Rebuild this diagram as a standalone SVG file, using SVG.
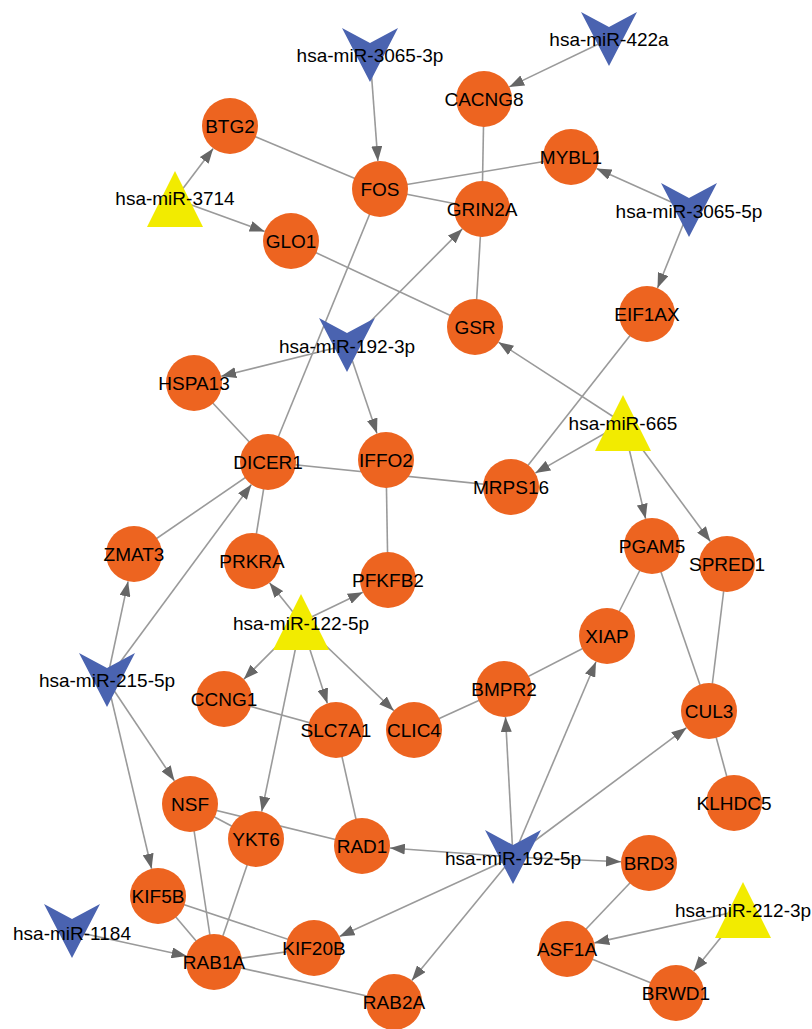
<svg xmlns="http://www.w3.org/2000/svg" width="812" height="1029" viewBox="0 0 812 1029">
<style>
.e{stroke:#9a9a9a;stroke-width:1.6;fill:none}
.a{stroke:#9a9a9a;stroke-width:1.6;fill:none;marker-end:url(#arr)}
.g{fill:#ED6420}
.v{fill:#4A63B0}
.t{fill:#F2EB00}
text{font-family:"Liberation Sans",Arial,sans-serif;font-size:19px;fill:#000;text-anchor:middle}
</style>
<defs>
<marker id="arr" markerUnits="userSpaceOnUse" markerWidth="15" markerHeight="11" refX="15" refY="5.5" orient="auto">
<path d="M0,0 L15,5.5 L0,11 Z" fill="#666"/>
</marker>
</defs>
<rect width="812" height="1029" fill="#fff"/>
<g id="edges">
<line class="e" x1="230" y1="126" x2="380" y2="189"/>
<line class="e" x1="380" y1="189" x2="571" y2="157"/>
<line class="e" x1="380" y1="189" x2="482" y2="209"/>
<line class="e" x1="484" y1="99" x2="482" y2="209"/>
<line class="e" x1="482" y1="209" x2="475" y2="327"/>
<line class="e" x1="291" y1="241" x2="475" y2="327"/>
<line class="e" x1="380" y1="189" x2="268" y2="462"/>
<line class="e" x1="194" y1="383" x2="268" y2="462"/>
<line class="e" x1="268" y1="462" x2="511" y2="487"/>
<line class="e" x1="647" y1="314" x2="511" y2="487"/>
<line class="e" x1="268" y1="462" x2="134" y2="554"/>
<line class="e" x1="268" y1="462" x2="252" y2="561"/>
<line class="e" x1="386" y1="460" x2="388" y2="580"/>
<line class="e" x1="652" y1="546" x2="607" y2="636"/>
<line class="e" x1="652" y1="546" x2="709" y2="711"/>
<line class="e" x1="727" y1="564" x2="709" y2="711"/>
<line class="e" x1="607" y1="636" x2="504" y2="689"/>
<line class="e" x1="504" y1="689" x2="414" y2="730"/>
<line class="e" x1="709" y1="711" x2="734" y2="803"/>
<line class="e" x1="224" y1="699" x2="336" y2="730"/>
<line class="e" x1="336" y1="730" x2="362" y2="846"/>
<line class="e" x1="190" y1="804" x2="362" y2="846"/>
<line class="e" x1="190" y1="804" x2="256" y2="839"/>
<line class="e" x1="190" y1="804" x2="214" y2="962"/>
<line class="e" x1="256" y1="839" x2="214" y2="962"/>
<line class="e" x1="158" y1="896" x2="214" y2="962"/>
<line class="e" x1="158" y1="896" x2="314" y2="948"/>
<line class="e" x1="214" y1="962" x2="314" y2="948"/>
<line class="e" x1="214" y1="962" x2="394" y2="1002"/>
<line class="e" x1="649" y1="863" x2="567" y2="949"/>
<line class="e" x1="567" y1="949" x2="676" y2="993"/>
<line class="a" x1="370" y1="55" x2="377.9" y2="161.1"/>
<line class="a" x1="609" y1="39" x2="509.2" y2="86.9"/>
<line class="a" x1="175" y1="199" x2="213.2" y2="148.4"/>
<line class="a" x1="175" y1="199" x2="264.7" y2="231.5"/>
<line class="a" x1="689" y1="210" x2="596.5" y2="168.5"/>
<line class="a" x1="689" y1="210" x2="657.5" y2="288"/>
<line class="a" x1="347" y1="345" x2="462.3" y2="228.9"/>
<line class="a" x1="347" y1="345" x2="221.2" y2="376.2"/>
<line class="a" x1="347" y1="345" x2="377" y2="433.5"/>
<line class="a" x1="623" y1="423" x2="498.5" y2="342.2"/>
<line class="a" x1="623" y1="423" x2="535.3" y2="473.1"/>
<line class="a" x1="623" y1="423" x2="645.6" y2="518.8"/>
<line class="a" x1="623" y1="423" x2="710.4" y2="541.5"/>
<line class="a" x1="107" y1="680" x2="128.1" y2="581.4"/>
<line class="a" x1="107" y1="680" x2="251.4" y2="484.5"/>
<line class="a" x1="107" y1="680" x2="174.4" y2="780.7"/>
<line class="a" x1="107" y1="680" x2="151.6" y2="868.7"/>
<line class="a" x1="301" y1="622" x2="269.5" y2="582.8"/>
<line class="a" x1="301" y1="622" x2="362.8" y2="592.2"/>
<line class="a" x1="301" y1="622" x2="243.8" y2="679.2"/>
<line class="a" x1="301" y1="622" x2="327.4" y2="703.4"/>
<line class="a" x1="301" y1="622" x2="393.8" y2="710.7"/>
<line class="a" x1="301" y1="622" x2="261.7" y2="811.6"/>
<line class="a" x1="513" y1="857" x2="505.5" y2="717"/>
<line class="a" x1="513" y1="857" x2="596" y2="661.8"/>
<line class="a" x1="513" y1="857" x2="686.5" y2="727.7"/>
<line class="a" x1="513" y1="857" x2="389.9" y2="848"/>
<line class="a" x1="513" y1="857" x2="621" y2="861.8"/>
<line class="a" x1="513" y1="857" x2="339.5" y2="936.4"/>
<line class="a" x1="513" y1="857" x2="411.8" y2="980.4"/>
<line class="a" x1="743" y1="910" x2="594.3" y2="942.9"/>
<line class="a" x1="743" y1="910" x2="693.6" y2="971.2"/>
<line class="a" x1="72" y1="931" x2="186.6" y2="956"/>
</g>
<g id="BTG2"><circle class="g" cx="230" cy="126" r="28"/><text x="230" y="132.7">BTG2</text></g>
<g id="FOS"><circle class="g" cx="380" cy="189" r="28"/><text x="380" y="195.7">FOS</text></g>
<g id="CACNG8"><circle class="g" cx="484" cy="99" r="28"/><text x="484" y="105.7">CACNG8</text></g>
<g id="MYBL1"><circle class="g" cx="571" cy="157" r="28"/><text x="571" y="163.7">MYBL1</text></g>
<g id="GRIN2A"><circle class="g" cx="482" cy="209" r="28"/><text x="482" y="215.7">GRIN2A</text></g>
<g id="GLO1"><circle class="g" cx="291" cy="241" r="28"/><text x="291" y="247.7">GLO1</text></g>
<g id="GSR"><circle class="g" cx="475" cy="327" r="28"/><text x="475" y="333.7">GSR</text></g>
<g id="EIF1AX"><circle class="g" cx="647" cy="314" r="28"/><text x="647" y="320.7">EIF1AX</text></g>
<g id="HSPA13"><circle class="g" cx="194" cy="383" r="28"/><text x="194" y="389.7">HSPA13</text></g>
<g id="DICER1"><circle class="g" cx="268" cy="462" r="28"/><text x="268" y="468.7">DICER1</text></g>
<g id="IFFO2"><circle class="g" cx="386" cy="460" r="28"/><text x="386" y="466.7">IFFO2</text></g>
<g id="MRPS16"><circle class="g" cx="511" cy="487" r="28"/><text x="511" y="493.7">MRPS16</text></g>
<g id="ZMAT3"><circle class="g" cx="134" cy="554" r="28"/><text x="134" y="560.7">ZMAT3</text></g>
<g id="PRKRA"><circle class="g" cx="252" cy="561" r="28"/><text x="252" y="567.7">PRKRA</text></g>
<g id="PFKFB2"><circle class="g" cx="388" cy="580" r="28"/><text x="388" y="586.7">PFKFB2</text></g>
<g id="PGAM5"><circle class="g" cx="652" cy="546" r="28"/><text x="652" y="552.7">PGAM5</text></g>
<g id="SPRED1"><circle class="g" cx="727" cy="564" r="28"/><text x="727" y="570.7">SPRED1</text></g>
<g id="XIAP"><circle class="g" cx="607" cy="636" r="28"/><text x="607" y="642.7">XIAP</text></g>
<g id="BMPR2"><circle class="g" cx="504" cy="689" r="28"/><text x="504" y="695.7">BMPR2</text></g>
<g id="CCNG1"><circle class="g" cx="224" cy="699" r="28"/><text x="224" y="705.7">CCNG1</text></g>
<g id="SLC7A1"><circle class="g" cx="336" cy="730" r="28"/><text x="336" y="736.7">SLC7A1</text></g>
<g id="CLIC4"><circle class="g" cx="414" cy="730" r="28"/><text x="414" y="736.7">CLIC4</text></g>
<g id="CUL3"><circle class="g" cx="709" cy="711" r="28"/><text x="709" y="717.7">CUL3</text></g>
<g id="KLHDC5"><circle class="g" cx="734" cy="803" r="28"/><text x="734" y="809.7">KLHDC5</text></g>
<g id="NSF"><circle class="g" cx="190" cy="804" r="28"/><text x="190" y="810.7">NSF</text></g>
<g id="YKT6"><circle class="g" cx="256" cy="839" r="28"/><text x="256" y="845.7">YKT6</text></g>
<g id="RAD1"><circle class="g" cx="362" cy="846" r="28"/><text x="362" y="852.7">RAD1</text></g>
<g id="BRD3"><circle class="g" cx="649" cy="863" r="28"/><text x="649" y="869.7">BRD3</text></g>
<g id="KIF5B"><circle class="g" cx="158" cy="896" r="28"/><text x="158" y="902.7">KIF5B</text></g>
<g id="KIF20B"><circle class="g" cx="314" cy="948" r="28"/><text x="314" y="954.7">KIF20B</text></g>
<g id="RAB1A"><circle class="g" cx="214" cy="962" r="28"/><text x="214" y="968.7">RAB1A</text></g>
<g id="RAB2A"><circle class="g" cx="394" cy="1002" r="28"/><text x="394" y="1008.7">RAB2A</text></g>
<g id="ASF1A"><circle class="g" cx="567" cy="949" r="28"/><text x="567" y="955.7">ASF1A</text></g>
<g id="BRWD1"><circle class="g" cx="676" cy="993" r="28"/><text x="676" y="999.7">BRWD1</text></g>
<g id="hsa-miR-3065-3p"><polygon class="v" points="342,28 370,43 398,28 370,82"/><text x="370" y="62">hsa-miR-3065-3p</text></g>
<g id="hsa-miR-422a"><polygon class="v" points="581,12 609,27 637,12 609,66"/><text x="609" y="45.7">hsa-miR-422a</text></g>
<g id="hsa-miR-3714"><polygon class="t" points="175,171 203,227 147,227"/><text x="175" y="205">hsa-miR-3714</text></g>
<g id="hsa-miR-3065-5p"><polygon class="v" points="661,183 689,198 717,183 689,237"/><text x="689" y="217.7">hsa-miR-3065-5p</text></g>
<g id="hsa-miR-192-3p"><polygon class="v" points="319,318 347,333 375,318 347,372"/><text x="347" y="352.7">hsa-miR-192-3p</text></g>
<g id="hsa-miR-665"><polygon class="t" points="623,395 651,451 595,451"/><text x="623" y="429.7">hsa-miR-665</text></g>
<g id="hsa-miR-122-5p"><polygon class="t" points="301,594 329,650 273,650"/><text x="301" y="629.7">hsa-miR-122-5p</text></g>
<g id="hsa-miR-215-5p"><polygon class="v" points="79,653 107,668 135,653 107,707"/><text x="107" y="686.7">hsa-miR-215-5p</text></g>
<g id="hsa-miR-192-5p"><polygon class="v" points="485,830 513,845 541,830 513,884"/><text x="513" y="864.7">hsa-miR-192-5p</text></g>
<g id="hsa-miR-212-3p"><polygon class="t" points="743,882 771,938 715,938"/><text x="743" y="916.7">hsa-miR-212-3p</text></g>
<g id="hsa-miR-1184"><polygon class="v" points="44,904 72,919 100,904 72,958"/><text x="72" y="939.7">hsa-miR-1184</text></g>
</svg>
